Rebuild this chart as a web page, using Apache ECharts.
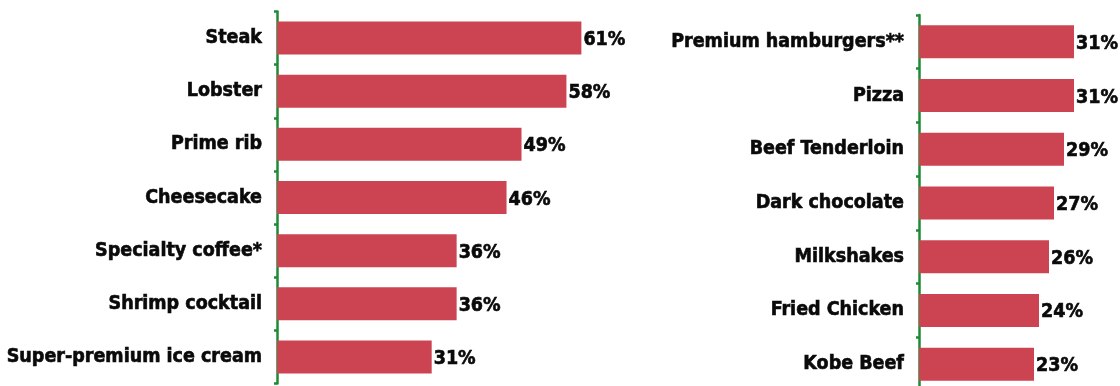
<!DOCTYPE html>
<html>
<head>
<meta charset="utf-8">
<script src="https://cdn.jsdelivr.net/npm/echarts@6/dist/echarts.min.js"></script>
<style>
  html, body { margin: 0; padding: 0; background: #ffffff; }
  #chart { width: 1120px; height: 386px; }
</style>
</head>
<body>
<div id="chart"></div>
<script>
// Left panel: items, top to bottom
const leftItems = ['Steak', 'Lobster', 'Prime rib', 'Cheesecake', 'Specialty coffee*', 'Shrimp cocktail', 'Super-premium ice cream'];
const leftValues = [61, 58, 49, 46, 36, 36, 31];

// Right panel: items, top to bottom
const rightItems = ['Premium hamburgers**', 'Pizza', 'Beef Tenderloin', 'Dark chocolate', 'Milkshakes', 'Fried Chicken', 'Kobe Beef'];
const rightValues = [31, 31, 29, 27, 26, 24, 23];

const BAR = '#CC4452';
const AXIS = '#1E8A36';
const INK = '#0a0a0a';
const FONT = "'Liberation Sans Narrow', 'DejaVu Sans Condensed', 'Arial Narrow', sans-serif";
const FONT_SIZE = 19.5;

// heavy condensed text: bold face plus a hairline stroke in the same ink
const textStyle = {
  color: INK,
  fontFamily: FONT,
  fontWeight: 'bold',
  fontSize: FONT_SIZE,
  textBorderColor: INK,
  textBorderWidth: 0.6
};

function catAxis(gridIndex, items) {
  return {
    type: 'category',
    gridIndex: gridIndex,
    data: items,
    inverse: true,
    axisLine: { show: true, lineStyle: { color: AXIS, width: 2.5 } },
    axisTick: { show: true, length: 3, lineStyle: { color: AXIS, width: 2.5 } },
    axisLabel: Object.assign({ margin: 15 }, textStyle)
  };
}

function valAxis(gridIndex, max) {
  return {
    type: 'value',
    gridIndex: gridIndex,
    min: 0,
    max: max,
    show: false,
    splitLine: { show: false }
  };
}

function barSeries(index, values) {
  return {
    type: 'bar',
    xAxisIndex: index,
    yAxisIndex: index,
    data: values,
    barWidth: 33,
    itemStyle: { color: BAR },
    label: Object.assign({
      show: true,
      position: 'right',
      distance: 2,
      offset: [0, 2],
      formatter: '{c}%'
    }, textStyle),
    silent: true
  };
}

const chart = echarts.init(document.getElementById('chart'), null, { renderer: 'canvas' });
chart.setOption({
  animation: false,
  backgroundColor: '#ffffff',
  grid: [
    { left: 277, top: 11.5, width: 499, height: 372, containLabel: false, outerBoundsMode: 'none' },
    { left: 919, top: 15, width: 200, height: 376, containLabel: false, outerBoundsMode: 'none' }
  ],
  xAxis: [valAxis(0, 100), valAxis(1, 40)],
  yAxis: [catAxis(0, leftItems), catAxis(1, rightItems)],
  series: [barSeries(0, leftValues), barSeries(1, rightValues)]
});
</script>
</body>
</html>
